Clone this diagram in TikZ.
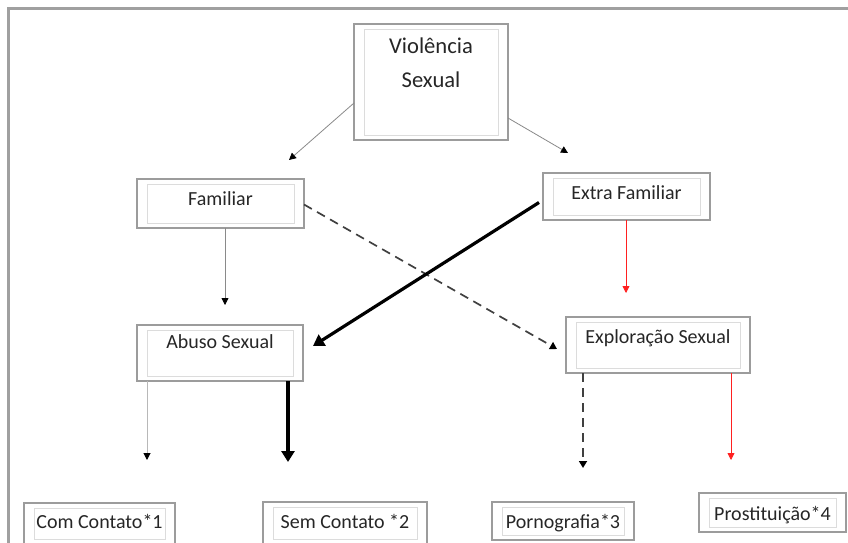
\documentclass[tikz,border=0pt]{standalone}
\usepackage{fontspec}
\setmainfont{Carlito}
\usetikzlibrary{arrows.meta,calc}
\definecolor{framegray}{HTML}{A0A0A0}
\definecolor{boxgray}{HTML}{9C9C9C}
\definecolor{innergray}{HTML}{DCDCDC}
\definecolor{txt}{HTML}{262626}
\definecolor{lnk}{HTML}{8A8A8A}
\definecolor{lnklight}{HTML}{B8B8B8}
\definecolor{redlnk}{HTML}{FF2020}
\begin{document}
\begin{tikzpicture}[x=1pt,y=-1pt,
  box/.style={draw=boxgray,line width=1.3pt,inner sep=0pt,outer sep=0pt,anchor=north west,
    text=txt,font=\fontsize{20}{24}\selectfont,
    path picture={\draw[draw=innergray,line width=0.9pt]
      ([xshift=10pt,yshift=-5pt]path picture bounding box.north west) rectangle
      ([xshift=-10pt,yshift=5pt]path picture bounding box.south east);}},
  thinlink/.style={draw=lnk,line width=0.8pt,-{Triangle[width=7pt,length=7pt,color=black]}},
  lightlink/.style={draw=lnklight,line width=1pt,-{Triangle[width=7pt,length=7pt,color=black]}},
  thicklink/.style={draw=black,line width=3.2pt,-{Triangle[width=13pt,length=11pt]}},
  dashlink/.style={draw=black!75,line width=1.7pt,dash pattern=on 9pt off 6pt,-{Triangle[width=8pt,length=7pt,color=black]}},
  redlink/.style={draw=redlnk,line width=0.8pt,-{Triangle[width=7pt,length=7pt,color=redlnk]}}
]
\useasboundingbox (0,0) rectangle (848,543);
% frame
\draw[framegray,line width=3pt] (8.5,543) -- (8.5,8.5) -- (848,8.5);

% boxes
\node[box,minimum width=154pt,text height=30pt,text depth=86pt,font=\fontsize{22.6}{34}\selectfont] (V) at (354,24)
  {\begin{tabular}[t]{@{}c@{}}Violência\\Sexual\end{tabular}};
\node[box,minimum width=167pt,text height=26pt,text depth=23pt] (F) at (137,179) {Familiar};
\node[box,minimum width=167pt,text height=26pt,text depth=21pt] (E) at (543,173) {Extra Familiar};
\node[box,minimum width=166pt,text height=23pt,text depth=33pt] (A) at (137,325) {Abuso Sexual};
\node[box,minimum width=184pt,text height=26pt,text depth=30pt] (X) at (566,317) {Exploração Sexual};
\node[box,minimum width=151pt,text height=25pt,text depth=16pt] (C1) at (24,503) {Com Contato*1};
\node[box,minimum width=164pt,text height=26pt,text depth=16pt] (C2) at (263,502) {Sem Contato *2};
\node[box,minimum width=142pt,text height=26pt,text depth=12pt] (P3) at (492,502) {Pornografia*3};
\node[box,minimum width=147pt,text height=27pt,text depth=12pt] (P4) at (699,493) {Prostituição*4};

% free ends
\coordinate (e1) at (289,160);
\coordinate (e2) at (568,153);
\coordinate (e3) at (225,305);
\coordinate (e4) at (557,349);
\coordinate (e5) at (313,346);
\coordinate (e6) at (626,293);
\coordinate (e7) at (147,460);
\coordinate (e8) at (288,462);
\coordinate (e9) at (583,468);
\coordinate (e10) at (731,460);

% connectors
\draw[thinlink] ([yshift=-21pt]V.west) -- (e1);
\draw[thinlink] ([yshift=-36pt]V.east) -- (e2);
\draw[thinlink] (F.south -| e3) -- (e3);
\draw[dashlink] ([yshift=-1pt]F.east) -- (e4);
\draw[thicklink] ([xshift=-4pt,yshift=-6pt]E.west) -- (e5);
\draw[redlink] (E.south -| e6) -- (e6);
\draw[lightlink] (A.south -| e7) -- (e7);
\draw[thicklink] (A.south -| e8) -- (e8);
\draw[dashlink] (X.south -| e9) -- (e9);
\draw[redlink] (X.south -| e10) -- (e10);
\end{tikzpicture}
\end{document}
